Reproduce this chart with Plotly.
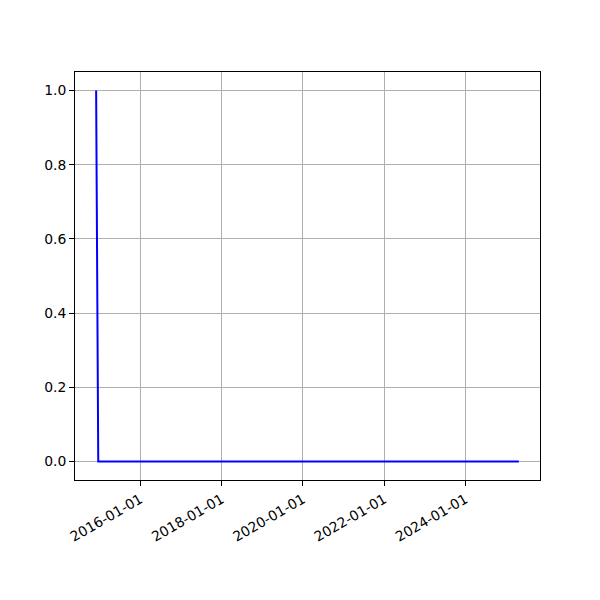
import pandas as pd
import plotly.graph_objects as go

dates = ["2014-11-30", "2014-12-19", "2025-04-25"]
values = [1.0, 0.0, 0.0]
x_ticks = ["2016-01-01", "2018-01-01", "2020-01-01", "2022-01-01", "2024-01-01"]
y_ticks = [0.0, 0.2, 0.4, 0.6, 0.8, 1.0]

d = pd.to_datetime(dates)
span = d.max() - d.min()
xr = [d.min() - span * 0.05, d.max() + span * 0.05]
vr = max(values) - min(values)
yr = [min(values) - 0.05 * vr, max(values) + 0.05 * vr]

fig = go.Figure(go.Scatter(x=d, y=values, mode="lines",
                           line=dict(color="blue", width=2)))

axis_common = dict(showline=True, linecolor="black", linewidth=1, mirror=True,
                   ticks="outside", ticklen=5, tickcolor="black", tickwidth=1,
                   showgrid=True, gridcolor="#b0b0b0", gridwidth=1,
                   zeroline=False, automargin=False,
                   tickfont=dict(family="DejaVu Sans", size=13.9, color="black"))

fig.update_xaxes(range=xr, tickvals=pd.to_datetime(x_ticks), ticktext=x_ticks,
                 tickangle=-30, **axis_common)
fig.update_yaxes(range=yr, tickvals=y_ticks, tickformat=".1f", **axis_common)

fig.update_layout(width=600, height=600, paper_bgcolor="white", plot_bgcolor="white",
                  margin=dict(l=67, r=68, t=64, b=128), showlegend=False,
                  font=dict(family="DejaVu Sans"))

fig.write_html("out.html")
